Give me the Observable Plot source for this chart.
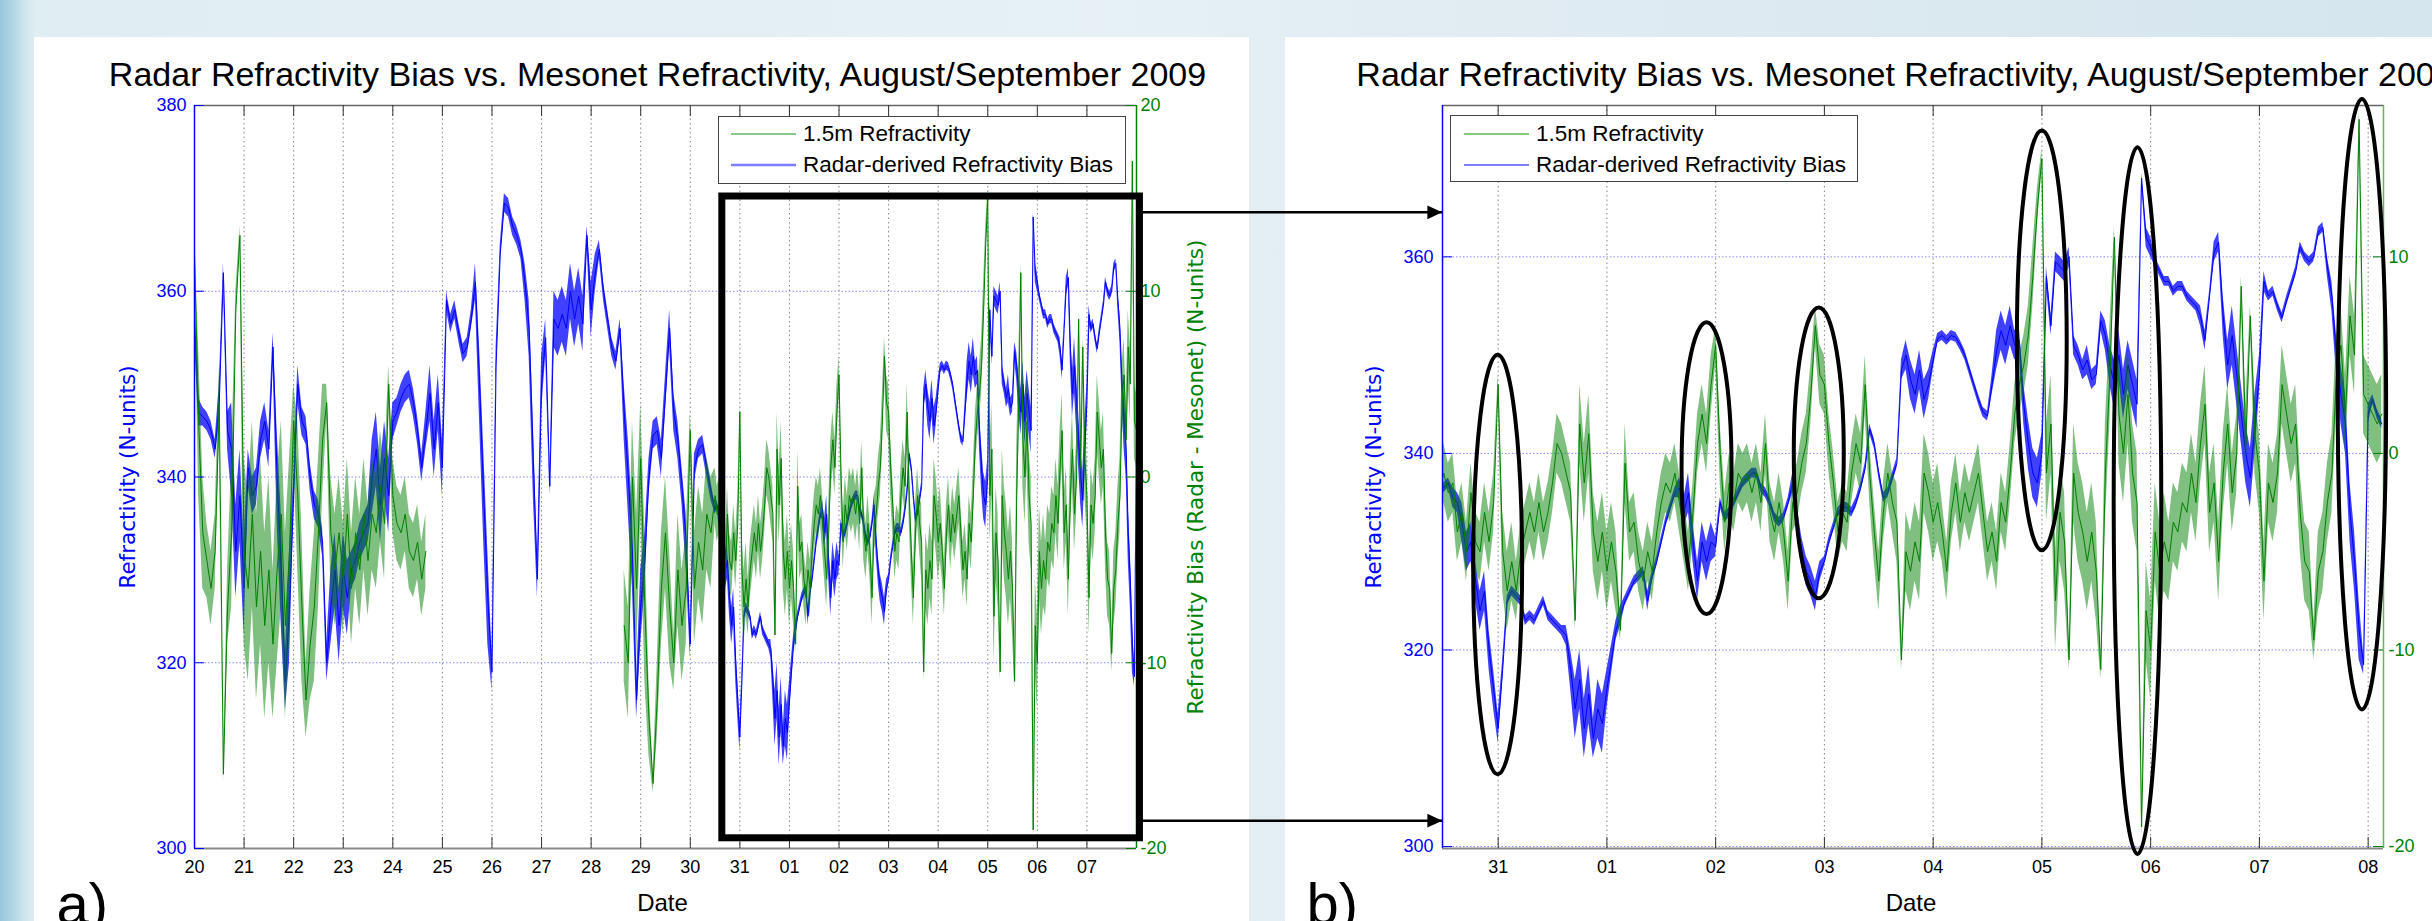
<!DOCTYPE html>
<html>
<head>
<meta charset="utf-8">
<script src="https://cdn.jsdelivr.net/npm/d3@7"></script>
<script src="https://cdn.jsdelivr.net/npm/@observablehq/plot@0.6"></script>
<style>
html,body{margin:0;padding:0;}
body{width:2432px;height:921px;overflow:hidden;position:relative;
 background:linear-gradient(90deg,#98c8dd 0px,#b3d7e6 14px,#cfe5ee 24px,#e0edf3 36px,#e6f0f5 45%,#dce9f0 75%,#d5e6ee 100%);}
.panel{position:absolute;background:#fff;top:37px;height:884px;}
.chart{position:absolute;top:37px;}
.legend{position:absolute;background:#fff;border:1.5px solid #444;box-sizing:border-box;font-family:"Liberation Sans",Arial,sans-serif;font-size:22.5px;color:#000;}
.legend .row{position:absolute;height:28px;line-height:28px;white-space:nowrap;}
.legend svg{position:absolute;overflow:visible;}
</style>
</head>
<body>
<div class="panel" style="left:34px;width:1215px"></div>
<div class="panel" style="left:1285px;width:1147px"></div>
<div id="cb" class="chart" style="left:1285px"></div>
<div id="ca" class="chart" style="left:34px"></div>
<div class="legend" id="la" style="left:718px;top:116px;width:408px;height:68px"></div>
<div class="legend" id="lb" style="left:1450px;top:115px;width:408px;height:67px"></div>
<script>
// ---------------- DATA ----------------
// Mesonet refractivity (N-units, left axis), every 2 h from 2009-08-20 00:00 UTC
const blueEarly = [357,347,346.5,346,345,343,348,362,345,343,332,338,328,
 341,338,339,344,346,343,354,340,330,318,326,338,
 350,346,345,340,337,336,333,320,326,330,324,330,
 327,330,331,333,334,335,340,343,337,342,338,346,
 347,348.5,349.5,350,348,345,341,345,349,
 343,348,341,359,356.5,358,355.5,353.3,354,357,361,350,
 338,327,319,352,364,369.5,369,367,366,364.5,361,356,
 342,329,350,355,339,357,356,357.5,356,360,357,359.5,
 356.5,366,358,362,364.5,360,357,354,352.5,356,347,340,
 332,316,326,331,340,344.5,345,342,349,356,347,344,
 339,333,322,341,343,343.5,341,338.5];
// half-width of the noise band around blueEarly (N-units)
const blueSpreadEarly = [2,1.5,1,1,1,1,2,1,2,5,5,5,5,
 2,2,2,2,2,2,1.5,5,6,3,6,2,
 2,1.5,1.5,1.5,1.5,1.5,1.5,2,4,4,4,4,
 4,2,2,2,2,2,4,4,4,4,4,2,
 1.5,1.5,1.5,1.5,1.5,1.5,1.5,2,3,
 3,3,3,1,1,1,1,1,1,1,2,4,
 5,5,2,2,1,1,1,1,1,1,2,3,
 4,2,3,2,1,3,3,3,3,3,3,3,
 3,1,3,2,1,1,1,1,1,1,3,4,
 4,2,4,3,2,1.5,1.5,2,2,2,2,2,
 2,3,1.5,1.5,1,1,1,1];
// every 1 h from 2009-08-30 12:00 UTC
const blueLate = [336.5,337,335.5,335,333,330,331,327,324,326,
 320,316,312,318,325,326,325.5,325,323,323.5,
 323,324,325,323.5,323,322.5,322,321.5,318,314,
 317,312,315.5,311,314,312.5,316,319,322,323.5,
 325,326,327,327.5,328,325,327.5,329,331,333,
 334.5,336,336.5,334,336,331,327,331,329,331,
 330.5,335,333.5,334,335,336,337,337.5,338,338,
 336.5,336,335,333.5,333,333.5,335,337,333,330,
 328,327,325.5,328,329,331,332.5,334,334.5,334.5,
 334,335,336.5,338.5,342.5,341,338,335.5,336,337.5,
 339,348.5,350,347.5,346,348.5,345.5,347,349.5,351.7,
 352,351.5,352,351.8,351,350,348.5,347,345.5,344.2,
 343.8,347,350.5,352.5,351,353,351,351.5,345,341,
 338,337,340,358,353,359.5,359,358.5,360,351,
 350,348.5,349.5,347.5,348,353.5,352,349,347,350,
 346,349,347,345,368,362,361,359.5,358.5,357.5,
 357.5,356.5,357,357,356,355.5,355,354,351.5,356,
 360.5,361.5,354,349,352,348,344,340,337.5,343,
 348,357.5,356,356.5,355,353.8,355.5,357,358.5,361,
 360,359.5,360,362.5,363,359,356,350,346,343,
 334,329,322,318.5,344,345.5,344,343];
const blueSpreadLate = [0.5,0.5,1,1,2,2,2,2,2,2,
 2,2,1.5,1,0.5,0.5,0.5,0.5,0.5,0.5,
 0.5,0.5,0.5,0.5,0.5,0.5,0.5,1,2,3,
 3,3,3,2,3,3,2,1.5,1,1,
 0.5,0.5,0.5,0.5,0.5,1,0.5,0.5,0.5,0.5,
 0.5,0.5,1,1.5,2,2,2,2,2,2,
 1,0.5,0.5,0.5,0.5,0.5,0.5,0.5,0.5,0.5,
 0.5,0.5,0.5,0.5,0.5,0.5,0.5,1,1.5,1.5,
 1.5,1.5,1.5,1,0.5,0.5,0.5,0.5,0.5,0.5,
 0.5,0.5,0.5,0.5,0.5,0.5,0.5,0.5,0.5,0.5,
 0.5,1,1.5,2,2,2,2,1.5,1,0.5,
 0.5,0.5,0.5,0.5,0.5,0.5,0.5,0.5,0.5,0.5,
 0.5,1,2,2,2,2,1.5,1.5,2,2.5,
 2.5,2.5,2,1,1,1,1,1,1,1,
 1,1,1.5,1,1,1,1.5,2,2.5,2.5,
 2.5,2.5,2.5,2.5,0.5,1,1,0.5,0.5,0.5,
 0.5,0.5,0.5,0.5,0.5,0.5,0.5,1,1,0.5,
 1,1,2,2.5,3,3,3,3,3,3,
 2,1,0.5,0.5,0.5,0.5,0.5,0.5,0.5,0.5,
 0.5,0.5,0.5,0.5,0.5,1,1.5,2,3,3,
 3,3,3,1,1,0.5,0.5,0.5];
// Refractivity bias (N-units, right axis)
// every 2 h from 2009-08-20 00:00 UTC
const greenEarly = [12,3,-3,-4.5,-6,-4,4,-16,-7,-3,9,13,-4,-6,-2,-7,-4,-8,-5,-9,
 -5,-2,-8,-4,3,-1,-7,-12,-9,-7,-3,2,4,-3,-5,-3,-5.5,-2,-6,-3,
 -5,-2,-4.5,-2,-3,-0.5,-2.5,5,-1,-2.5,-3,-2,-4,-4.5,-3.5,-5.5,-4];
const greenSpreadEarly = [1,4,3,2,2,2,2,0.5,2,4,
 1,0.5,5,5,5,5,5,5,5,4,
 5,5,5,5,2,4,4,2,3,4,
 4,3,1,3,3,3,3,3,3,3,
 3,3,3,3,3,3,3,1,2,2,
 2,2,2,2,2,2,2];
// every 2 h from 2009-08-28 16:00 UTC
const greenMid = [-8,-10,0,-6,1,-7,-13,-16.5,-12,-6,-3,-7,-10,-5,-8,-6,2.5,-6,-3.5,-5,-2,-3];
const greenSpreadMid = [3,3,3,4,3,4,2,0.5,2,3,3,3,1.5,3,3,3,1,3,3,3,3,3];
// every 1 h from 2009-08-30 12:00 UTC
const greenLate = [-1,-2,-1.5,-4,-3,-5,-2,-4.5,-5,-3,
 -4.5,-2.5,3.5,-5,-7,-5.5,-7,-5,-4,-3,
 -4,-2.5,-4,-3,-1.5,0.5,0,-1,-2,-8.5,
 1.5,-1.5,1,-4,-5.5,-4,-6,-4.5,-6,-9,
 -0.5,-4,-3.5,-5.5,-6.5,-5,-6,-4,-2.5,-1.5,
 -2,-1,-2.5,-4,-5.5,-3,0.5,2,0.5,3.5,
 5.5,0,-3.5,-1.5,-2.5,-1,-1.5,-1,-2,-1,
 -2.5,0.5,-3,-4,-2.5,-4,-6.5,-2.5,-2,-0.5,
 0.5,3,6.5,4,3.5,0.5,-1.5,-4,-3,-3.5,
 -1,0.5,-0.5,3.5,-1,-4,-6.5,-3,-1,-2.5,
 -3.5,-10.5,-5,-6,-4.5,-5.5,-1,-2,-3.5,-2.5,
 -4,-6,-3,-1.5,-3.5,-2,-3,-2,-1,-3,
 -5,-4,-5.5,-2.5,-3.5,-1,2,3.5,4.5,6,
 9,12.5,15,-1,1.5,-7.5,-3,-4.5,-10.5,-1,
 -3,-4,-5.5,-4,-6,-11,-1,4,11,2,
 0,3,-1,-2.5,-19,-8,-10,-4,-6,-4.5,
 -5.5,-3.5,-4,-2.5,-3,-1,-2.5,0.5,2.5,-3,
 -1.5,-5.5,-1,1.5,-2,0,8.5,0.5,7,1,
 -1,-6.5,-1.5,-2.5,-1,3.5,2,0.5,1.5,-3,
 -5.5,-6,-9.5,-6,-5,-2.5,-1,4,5.5,2,
 7,5,17,3,2.5,2,1.5,2];
const greenSpreadLate = [1.5,1.5,1.5,1.5,1.5,1.5,1.5,1.5,1.5,1.5,
 1.5,1.5,0.5,2,2,2,1.5,1.5,1.5,1.5,
 1.5,1.5,1.5,1.5,1.5,1.5,1.5,1.5,1.5,0.5,
 2,2,2,2,2,2,2,2,2,0.5,
 2,1.5,1.5,1.5,1.5,1.5,1.5,1.5,1.5,1.5,
 1.5,1.5,1.5,1.5,1.5,1.5,1.5,1.5,1.5,1.5,
 1,1.5,1.5,1.5,1.5,1.5,1.5,1.5,1.5,1.5,
 1.5,1.5,1.5,1.5,1.5,1.5,1.5,1.5,1.5,1.5,
 1.5,1.5,1,1.5,1.5,1.5,1.5,1.5,1.5,1.5,
 1.5,1.5,1.5,1.5,1.5,1.5,1.5,1.5,1.5,1.5,
 2,0.5,2,2,2,2,2,2,2,2,
 1.5,1.5,1.5,1.5,1.5,1.5,1.5,1.5,1.5,1.5,
 1.5,1.5,1.5,1.5,1.5,1.5,1.5,1.5,1.5,1.5,
 1.5,1,0.5,2.5,2.5,2.5,2.5,2.5,0.5,2.5,
 2.5,2.5,2.5,2.5,2.5,0.5,2.5,2.5,0.5,2.5,
 2.5,2.5,2.5,2.5,0.5,2.5,2.5,2.5,2.5,2.5,
 2,2,2,2,2,2,2,2,2,2,
 2,2,2,2,2,2,0.5,2,0.5,2,
 2,2,2,2,2,2,2,2,2,2,
 2,2,1,2,2,2,2,2,2,2,
 2,2,0.5,2,2,2,2,2];

const leftTicksA = [300,320,340,360,380];
const leftTicksB = [300,320,340,360];
const titleText = "Radar Refractivity Bias vs. Mesonet Refractivity, August/September 2009";
const leftLabel = "Refractivity (N-units)";
const rightLabel = "Refractivity Bias (Radar - Mesonet) (N-units)";
const xLabel = "Date";
const legendLabels = ["1.5m Refractivity","Radar-derived Refractivity Bias"];

// zoom box on panel a and the arrows to panel b
const zoomBox = {x1:new Date("2009-08-30T15:30:00Z"), x2:new Date("2009-09-08T01:40:00Z"), y1:301.1, y2:370.2};
const zoomArrows = [{y:368.5, tip:new Date("2009-09-14T04:00:00Z")},{y:303.0, tip:new Date("2009-09-14T04:00:00Z")}];
// ellipses on panel b
const ellipses = [
 {x1:"2009-08-30T18:36:00Z", x2:"2009-08-31T05:24:00Z", top:350.0, bottom:307.3},
 {x1:"2009-09-01T16:35:00Z", x2:"2009-09-02T03:37:00Z", top:353.3, bottom:323.6},
 {x1:"2009-09-02T17:21:00Z", x2:"2009-09-03T04:23:00Z", top:354.8, bottom:325.2},
 {x1:"2009-09-04T18:35:00Z", x2:"2009-09-05T05:35:00Z", top:372.8, bottom:330.1},
 {x1:"2009-09-05T15:57:00Z", x2:"2009-09-06T02:27:00Z", top:371.1, bottom:299.2},
 {x1:"2009-09-07T17:24:00Z", x2:"2009-09-08T04:04:00Z", top:376.0, bottom:313.9}
].map(d=>({...d, x1:new Date(d.x1), x2:new Date(d.x2)}));

// ---------------- BUILD ----------------
const H = 3600e3;
const tStart = Date.parse("2009-08-20T00:00:00Z");
const tMid = Date.parse("2009-08-28T16:00:00Z");
const tLate = Date.parse("2009-08-30T12:00:00Z");
const seq = (t, step, vals, spreads) => vals.map((v,k)=>({t:new Date(t+k*step*H), v, s:spreads[k]}));
const blue = seq(tStart,2,blueEarly,blueSpreadEarly).concat(seq(tLate,1,blueLate,blueSpreadLate));
const green = seq(tStart,2,greenEarly,greenSpreadEarly).concat(
  [{t:new Date(tStart+greenEarly.length*2*H), v:NaN, s:NaN}],
  seq(tMid,2,greenMid,greenSpreadMid), seq(tLate,1,greenLate,greenSpreadLate));
const biasToLeft = g => 340 + 2*g;
const leftToBias = v => String((v-340)/2);

const FONT = "Liberation Sans, Arial, sans-serif";
const LFONT = "DejaVu Sans, Verdana, sans-serif";
const fmtDay = d => d3.utcFormat("%d")(d);
const arrowHead = {draw(ctx, size){ const s=Math.sqrt(size); ctx.moveTo(0,0); ctx.lineTo(-1.2*s,-0.55*s); ctx.lineTo(-1.2*s,0.55*s); ctx.closePath(); }};

function panelMarks(o){
  const dayMs = 864e5;
  const pxPerDay = o.fw / ((o.xd[1]-o.xd[0])/dayMs);
  const pxPerUnit = 743 / (o.yd[1]-o.yd[0]);
  const tkY = 11/pxPerUnit, tkX = 10/pxPerDay*dayMs;
  const inner = o.days.filter(d => d > o.xd[0] && d < o.xd[1]);
  return [
    Plot.ruleX(inner, {x:d=>d, stroke:"#222", strokeOpacity:0.55, strokeDasharray:"1.5,3"}),
    Plot.ruleY(o.grid, {y:d=>d, stroke:"#3a3aff", strokeOpacity:0.6, strokeDasharray:"1.5,2"}),
    Plot.areaY(blue, {x:"t", y1:d=>d.v-d.s, y2:d=>d.v+d.s, fill:"#0000ff", fillOpacity:0.75, clip:true}),
    Plot.line(blue, {x:"t", y:"v", stroke:"#0000ff", strokeWidth:1, clip:true}),
    Plot.areaY(green, {x:"t", y1:d=>biasToLeft(d.v-d.s), y2:d=>biasToLeft(d.v+d.s), fill:"#008000", fillOpacity:0.5, clip:true}),
    Plot.line(green, {x:"t", y:d=>biasToLeft(d.v), stroke:"#008000", strokeWidth:1, clip:true}),
    Plot.ruleY([o.yd[1]], {y:d=>d, stroke:"#666", strokeWidth:1.5}),
    Plot.ruleY([o.yd[0]], {y:d=>d, stroke:"#888", strokeWidth:2}),
    Plot.ruleX([o.xd[0]], {x:d=>d, stroke:"#0000ff", strokeWidth:1.5}),
    Plot.ruleX([o.xd[1]], {x:d=>d, stroke:o.rightColor, strokeWidth:1.5}),
    Plot.ruleX(inner, {x:d=>d, y1:()=>o.yd[0], y2:()=>o.yd[0]+tkY, stroke:"#333"}),
    Plot.ruleX(inner, {x:d=>d, y1:()=>o.yd[1]-tkY, y2:()=>o.yd[1], stroke:"#333"}),
    Plot.ruleY(o.ticks, {y:d=>d, x1:()=>o.xd[0], x2:()=>new Date(+o.xd[0]+tkX), stroke:"#0000ff"}),
    Plot.ruleY(o.ticks, {y:d=>d, x1:()=>new Date(+o.xd[1]-tkX), x2:()=>o.xd[1], stroke:"#008000"}),
    Plot.axisX({ticks:o.days, tickFormat:fmtDay, tickSize:0, tickPadding:12, fontSize:18, color:"#000", label:null, fontFamily:FONT}),
    Plot.axisY({ticks:o.ticks, anchor:"left", tickSize:0, tickPadding:o.padL, fontSize:18, color:"#0000ff", label:null, fontFamily:FONT}),
    Plot.axisY({ticks:o.ticks, anchor:"right", tickSize:0, tickPadding:o.padR, fontSize:18, color:"#008000", tickFormat:leftToBias, label:null, fontFamily:FONT}),
    Plot.text([titleText], {text:d=>d, frameAnchor:"top", dx:-8, dy:-20, textAnchor:"middle", lineAnchor:"bottom", fontSize:34, fill:"#000", fontFamily:FONT}),
    Plot.text([leftLabel], {text:d=>d, frameAnchor:"left", dx:o.labelDx, rotate:-90, textAnchor:"middle", lineAnchor:"middle", fontSize:21.5, fill:"#0000ff", fontFamily:LFONT}),
    Plot.text([xLabel], {text:d=>d, frameAnchor:"bottom", dx:o.dateDx, dy:62, textAnchor:"middle", lineAnchor:"bottom", fontSize:24, fill:"#000", fontFamily:FONT}),
    Plot.text([o.tag], {text:d=>d, frameAnchor:"bottom-left", dx:o.tagDx, dy:75, textAnchor:"start", lineAnchor:"bottom", fontSize:58, fill:"#000", fontFamily:FONT})
  ];
}

// Panel a
const aX = [new Date("2009-08-20T00:00:00Z"), new Date("2009-09-08T00:00:00Z")];
const aY = [300, 380];
const aDays = d3.utcDay.range(aX[0], aX[1]);
const chartA = Plot.plot({
  width:1416, height:884, marginLeft:160, marginRight:314, marginTop:68, marginBottom:73,
  x:{type:"utc", domain:aX}, y:{domain:aY},
  style:{background:"transparent", overflow:"visible", maxWidth:"none", fontFamily:FONT},
  marks:[
    ...panelMarks({xd:aX, yd:aY, fw:942, days:aDays, grid:[320,340,360], ticks:leftTicksA, rightColor:"#008000", padL:8, padR:4, labelDx:-66, dateDx:-3, tag:"a)", tagDx:-138}),
    Plot.text([rightLabel], {text:d=>d, frameAnchor:"right", dx:60, rotate:-90, textAnchor:"middle", lineAnchor:"middle", fontSize:21.5, fill:"#008000", fontFamily:LFONT}),
    Plot.rect([zoomBox], {x1:"x1", x2:"x2", y1:"y1", y2:"y2", fill:"none", stroke:"#000", strokeWidth:7}),
    Plot.link(zoomArrows, {x1:()=>zoomBox.x2, x2:"tip", y1:"y", y2:"y", stroke:"#000", strokeWidth:2.5}),
    Plot.dot(zoomArrows, {x:"tip", y:"y", symbol:arrowHead, r:7, fill:"#000", stroke:"none"})
  ]
});
document.getElementById("ca").append(chartA);

// Panel b
const bX = [new Date("2009-08-30T11:43:00Z"), new Date("2009-09-08T03:23:00Z")];
const bY = [299.8, 375.4];
const bDays = d3.utcDay.range(new Date("2009-08-31T00:00:00Z"), new Date("2009-09-08T01:00:00Z"));
const chartB = Plot.plot({
  width:1147, height:884, marginLeft:157, marginRight:49, marginTop:68, marginBottom:73,
  x:{type:"utc", domain:bX}, y:{domain:bY},
  style:{background:"transparent", maxWidth:"none", fontFamily:FONT},
  marks:[
    ...panelMarks({xd:bX, yd:bY, fw:941, days:bDays, grid:[300,320,340,360], ticks:leftTicksB, rightColor:"#5cb85c", padL:9, padR:5, labelDx:-68, dateDx:-2, tag:"b)", tagDx:-136}),
    Plot.rect(ellipses, {x1:"x1", x2:"x2", y1:"bottom", y2:"top", rx:1000, ry:1000, fill:"none", stroke:"#000", strokeWidth:4})
  ]
});
document.getElementById("cb").append(chartB);

// Legends
function legend(id, items){
  const el = document.getElementById(id);
  items.forEach(it=>{
    const svgNS = "http://www.w3.org/2000/svg";
    const s = document.createElementNS(svgNS,"svg");
    s.setAttribute("width", it.x2-it.x1); s.setAttribute("height", 6);
    s.style.left = it.x1+"px"; s.style.top = (it.y-3)+"px";
    const l = document.createElementNS(svgNS,"line");
    l.setAttribute("x1",0); l.setAttribute("x2",it.x2-it.x1); l.setAttribute("y1",3); l.setAttribute("y2",3);
    l.setAttribute("stroke", it.color); l.setAttribute("stroke-width", it.w);
    s.append(l); el.append(s);
    const r = document.createElement("div");
    r.className = "row"; r.textContent = it.label;
    r.style.left = it.tx+"px"; r.style.top = (it.y-14)+"px";
    el.append(r);
  });
}
legend("la", [
  {label:legendLabels[0], color:"#1a901a", w:1.2, x1:12, x2:77, tx:84, y:17},
  {label:legendLabels[1], color:"#7d7dff", w:2.5, x1:12, x2:77, tx:84, y:48}
]);
legend("lb", [
  {label:legendLabels[0], color:"#5cb85c", w:1.5, x1:13, x2:78, tx:85, y:18},
  {label:legendLabels[1], color:"#0000ff", w:1.2, x1:13, x2:78, tx:85, y:49}
]);
</script>
</body>
</html>
